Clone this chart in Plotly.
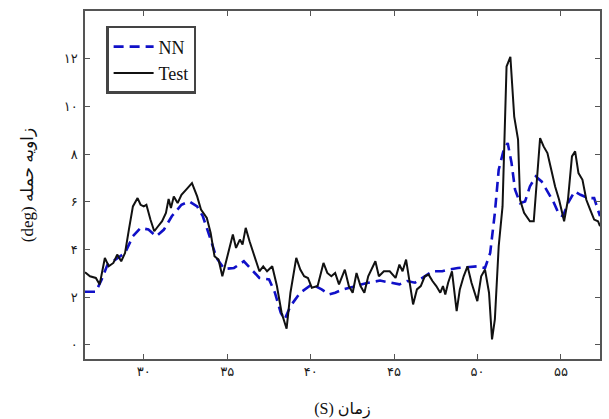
import plotly.graph_objects as go

# Measured angle of attack (Test) vs. neural-network estimate (NN)
test_t = [26.48, 26.78, 27.13, 27.36, 27.67, 27.90, 28.18, 28.41, 28.65, 28.88,
          29.11, 29.35, 29.63, 29.81, 30.00, 30.16, 30.40, 30.63, 30.86, 31.10,
          31.33, 31.49, 31.63, 31.80, 32.03, 32.26, 32.57, 32.89, 33.20, 33.43,
          33.78, 34.01, 34.24, 34.48, 34.71, 34.83, 35.06, 35.34, 35.53, 35.76,
          35.92, 36.11, 36.34, 36.69, 36.93, 37.16, 37.39, 37.70, 37.98, 38.26,
          38.56, 38.79, 39.14, 39.38, 39.61, 39.84, 40.07, 40.42, 40.77, 41.00,
          41.24, 41.47, 41.70, 42.05, 42.29, 42.52, 42.75, 42.99, 43.22, 43.45,
          43.68, 43.88, 44.09, 44.39, 44.74, 45.09, 45.32, 45.51, 45.72, 45.90,
          46.14, 46.37, 46.60, 46.84, 47.07, 47.30, 47.53, 47.77, 47.93, 48.07,
          48.24, 48.47, 48.75, 48.94, 49.17, 49.40, 49.64, 49.99, 50.22, 50.45,
          50.69, 50.87, 51.04, 51.27, 51.50, 51.74, 51.97, 52.20, 52.43, 52.55,
          52.79, 53.14, 53.37, 53.56, 53.75, 53.96, 54.19, 54.42, 54.65, 54.89,
          55.19, 55.42, 55.66, 55.85, 56.05, 56.29, 56.52, 56.75, 56.99, 57.22,
          57.34]
test_deg = [3.04, 2.87, 2.80, 2.53, 3.64, 3.29, 3.43, 3.78, 3.50, 3.85,
            4.83, 5.80, 6.15, 5.87, 5.80, 5.87, 5.25, 4.76, 4.97, 5.18,
            5.53, 6.11, 5.73, 6.22, 5.94, 6.29, 6.53, 6.78, 6.22, 5.67,
            5.32, 4.69, 3.71, 3.57, 2.87, 3.22, 3.85, 4.62, 4.06, 4.41,
            4.20, 4.90, 4.34, 3.57, 3.08, 3.29, 3.08, 3.29, 2.46, 1.34,
            0.67, 2.18, 3.64, 3.15, 2.87, 2.80, 2.39, 2.46, 3.43, 3.01,
            2.87, 3.01, 2.53, 3.15, 2.46, 2.18, 3.01, 2.46, 2.18, 2.87,
            3.22, 3.50, 2.87, 3.08, 3.08, 2.80, 3.36, 3.08, 3.57, 2.73,
            1.69, 2.32, 2.46, 2.87, 2.94, 2.67, 2.46, 2.18, 2.46, 2.11,
            2.60, 3.08, 1.41, 2.32, 2.87, 3.29, 2.60, 1.83, 2.87, 3.15,
            2.18, 0.22, 1.06, 4.13, 5.80, 11.67, 12.08, 9.57, 8.60, 6.08,
            5.53, 5.18, 5.18, 6.92, 8.67, 8.32, 8.04, 7.34, 6.64, 6.08,
            5.18, 6.08, 7.90, 8.11, 7.20, 6.92, 6.08, 5.67, 5.25, 5.18,
            4.97]

nn_t = [26.48, 27.13, 27.48, 27.83, 28.30, 28.88, 29.35, 29.81, 30.28, 30.75,
        31.21, 31.68, 32.26, 32.73, 33.20, 33.54, 34.01, 34.36, 34.83, 35.41,
        36.00, 36.46, 36.93, 37.51, 37.86, 38.21, 38.44, 38.79, 39.38, 40.07,
        40.66, 41.12, 41.47, 41.94, 42.64, 43.45, 44.16, 44.74, 45.32, 45.79,
        46.25, 46.84, 47.30, 47.89, 48.24, 48.82, 49.40, 49.99, 50.45, 50.76,
        51.04, 51.27, 51.57, 51.81, 52.04, 52.25, 52.55, 52.85, 53.14, 53.49,
        53.84, 54.19, 54.54, 54.89, 55.12, 55.42, 55.82, 56.17, 56.64, 56.99,
        57.34]
nn_deg = [2.22, 2.22, 2.74, 3.36, 3.57, 3.85, 4.55, 4.90, 4.83, 4.55,
          4.83, 5.39, 5.87, 6.01, 5.80, 5.39, 4.41, 3.64, 3.18, 3.22,
          3.50, 3.15, 2.80, 2.74, 2.18, 1.34, 1.06, 1.62, 2.18, 2.53,
          2.32, 2.11, 2.18, 2.32, 2.46, 2.60, 2.69, 2.60, 2.53, 2.67,
          2.60, 2.87, 3.08, 3.08, 3.15, 3.22, 3.25, 3.29, 3.22, 3.85,
          5.53, 7.34, 8.18, 8.46, 7.62, 6.50, 5.94, 6.01, 6.64, 7.06,
          6.85, 6.43, 6.01, 5.46, 5.39, 5.94, 6.43, 6.29, 6.15, 6.15,
          5.39]

x_ticks = [30, 35, 40, 45, 50, 55]
x_tick_text = ["۳۰", "۳۵", "۴۰", "۴۵", "۵۰", "۵۵"]
y_ticks = [0, 2, 4, 6, 8, 10, 12]
y_tick_text = ["۰", "۲", "۴", "۶", "۸", "۱۰", "۱۲"]

FONT = "Liberation Serif, DejaVu Sans, serif"
FRAME = "#555555"

fig = go.Figure()
fig.add_trace(go.Scatter(
    x=nn_t, y=nn_deg, mode="lines", name="NN",
    line=dict(color="#1010c8", width=2.6, dash="10px,6px"),
))
fig.add_trace(go.Scatter(
    x=test_t, y=test_deg, mode="lines", name="Test",
    line=dict(color="#111111", width=2),
))

axis_common = dict(
    showgrid=False, zeroline=False, automargin=False,
    showline=True, linecolor=FRAME, linewidth=1.5, mirror="ticks",
    ticks="inside", ticklen=5, tickcolor=FRAME, tickwidth=1.2,
    tickfont=dict(family="DejaVu Sans, serif", size=13, color="#1a1a1a"),
)

fig.update_xaxes(
    range=[26.48, 57.34],
    tickvals=x_ticks, ticktext=x_tick_text,
    title=dict(text="(S) زمان", font=dict(family=FONT, size=16, color="#111111"),
               standoff=24),
    **axis_common,
)
fig.update_yaxes(
    range=[-0.6, 14.0],
    tickvals=y_ticks, ticktext=y_tick_text,
    ticklabelstandoff=3,
    title=dict(text="(deg) زاویه حمله", font=dict(family=FONT, size=17, color="#111111"),
               standoff=26),
    **axis_common,
)

fig.update_layout(
    width=609, height=419,
    margin=dict(l=85, r=9, t=11, b=60, autoexpand=False),
    paper_bgcolor="white", plot_bgcolor="white",
    font=dict(family=FONT, color="#111111"),
    showlegend=True,
    legend=dict(
        x=0.041, y=0.957, xanchor="left", yanchor="top",
        bgcolor="white", bordercolor="#444444", borderwidth=2.5,
        font=dict(family="Liberation Serif, serif", size=18, color="#111111"),
        itemwidth=40, tracegroupgap=0,
    ),
)

fig.write_html("out.html")
